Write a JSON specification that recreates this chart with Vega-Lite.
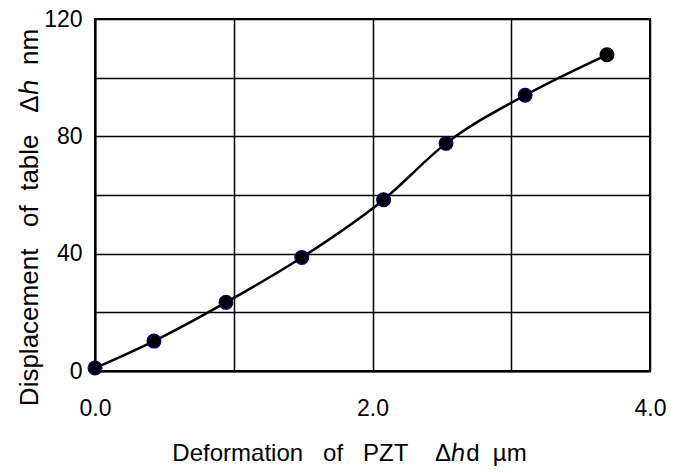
{
  "$schema": "https://vega.github.io/schema/vega-lite/v6.json",
  "width": 555,
  "height": 352,
  "padding": {"left": 95, "top": 19, "right": 27, "bottom": 102},
  "autosize": {"type": "none"},
  "background": "white",
  "config": {
    "view": {"stroke": "black", "strokeWidth": 2},
    "font": "Liberation Sans"
  },
  "data": {
    "values": [
      {"x": 0.0, "y": 1.0, "last": "no"},
      {"x": 0.425, "y": 10.2, "last": "no"},
      {"x": 0.944, "y": 23.4, "last": "no"},
      {"x": 1.49, "y": 38.7, "last": "no"},
      {"x": 2.08, "y": 58.4, "last": "no"},
      {"x": 2.53, "y": 77.6, "last": "no"},
      {"x": 3.10, "y": 94.0, "last": "no"},
      {"x": 3.69, "y": 107.8, "last": "yes"}
    ]
  },
  "encoding": {
    "x": {
      "field": "x", "type": "quantitative",
      "scale": {"domain": [0, 4], "nice": false, "zero": false},
      "axis": {
        "values": [0, 1, 2, 3, 4],
        "format": ".1f",
        "labelExpr": "datum.value % 2 == 0 ? datum.label : ''",
        "labelFlush": false,
        "grid": true, "gridColor": "black", "gridWidth": 1.5, "gridOpacity": 1,
        "domainColor": "black", "domainWidth": 2,
        "ticks": false, "labelPadding": 26,
        "labelFontSize": 23, "labelColor": "black", "labelFont": "Liberation Sans",
        "title": "Deformation\u00a0\u00a0\u00a0of\u00a0\u00a0\u00a0PZT\u00a0\u00a0\u00a0\u00a0Δℎd\u00a0\u00a0µm",
        "titleFontSize": 24, "titleFontWeight": "normal", "titleColor": "black",
        "titleFont": "Liberation Sans", "titlePadding": 21, "titleX": 254
      }
    },
    "y": {
      "field": "y", "type": "quantitative",
      "scale": {"domain": [0, 120], "nice": false},
      "axis": {
        "values": [0, 20, 40, 60, 80, 100, 120],
        "labelExpr": "datum.value % 40 == 0 ? datum.label : ''",
        "grid": true, "gridColor": "black", "gridWidth": 1.5, "gridOpacity": 1,
        "domainColor": "black", "domainWidth": 2,
        "ticks": false, "labelPadding": 13,
        "labelFontSize": 23, "labelColor": "black", "labelFont": "Liberation Sans",
        "title": "Displacement\u00a0\u00a0\u00a0of\u00a0\u00a0table\u00a0\u00a0\u00a0Δℎ\u00a0\u00a0nm",
        "titleFontSize": 26, "titleFontWeight": "normal", "titleColor": "black",
        "titleFont": "Liberation Sans", "titleY": 198, "titleX": -53
      }
    }
  },
  "layer": [
    {
      "mark": {"type": "line", "color": "black", "strokeWidth": 2.5, "interpolate": "monotone"}
    },
    {
      "mark": {"type": "point", "shape": "circle", "filled": true, "fill": "black", "size": 190, "strokeWidth": 1.2, "opacity": 1},
      "encoding": {
        "stroke": {
          "field": "last", "type": "nominal",
          "scale": {"domain": ["no", "yes"], "range": ["#000080", "black"]},
          "legend": null
        }
      }
    }
  ]
}
